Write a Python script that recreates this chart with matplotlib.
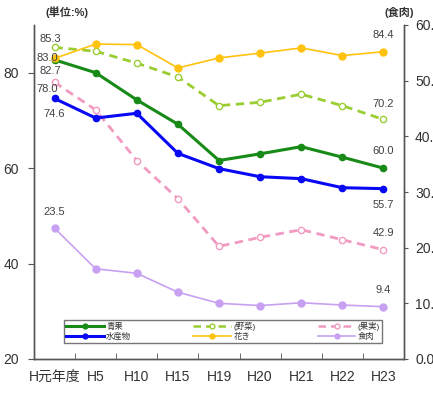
import matplotlib.pyplot as plt
from matplotlib.lines import Line2D

plt.rcParams['font.family'] = ['Liberation Sans', 'Noto Sans CJK JP', 'DejaVu Sans']

years = ["H元年度", "H5", "H10", "H15", "H19", "H20", "H21", "H22", "H23"]

seika = [82.7, 80.0, 74.3, 69.2, 61.6, 63.0, 64.5, 62.3, 60.0]      # 青果
yasai = [85.3, 84.5, 82.0, 79.1, 73.1, 73.8, 75.5, 73.1, 70.2]      # (野菜)
kajitsu = [78.0, 72.2, 61.6, 53.6, 43.6, 45.5, 47.1, 45.0, 42.9]    # (果実)
suisan = [74.6, 70.5, 71.5, 63.1, 59.9, 58.2, 57.8, 55.9, 55.7]     # 水産物
kaki = [83.0, 86.0, 85.9, 81.0, 83.1, 84.1, 85.2, 83.6, 84.4]       # 花き
shokuniku = [23.5, 16.2, 15.4, 12.0, 10.0, 9.6, 10.1, 9.7, 9.4]     # 食肉 (right axis)

label_col = "#404040"

fig = plt.figure(figsize=(4.33, 3.94), dpi=100)
ax = fig.add_axes([34 / 433, 1 - 359 / 394, 370 / 433, 334 / 394])
ax2 = ax.twinx()

x = list(range(len(years)))

ax.plot(x, seika, color="#178a17", lw=2.2, marker="o", ms=4.5, label="青果")
ax.plot(x, yasai, color="#9acd32", lw=2.0, ls=(0, (3, 2)), marker="o", ms=4.5,
        mfc="white", mec="#9acd32", mew=1.0, label="(野菜)")
ax.plot(x, kajitsu, color="#f29ac2", lw=2.0, ls=(0, (3, 2)), marker="o", ms=4.5,
        mfc="white", mec="#f29ac2", mew=1.0, label="(果実)")
ax.plot(x, suisan, color="#0808f5", lw=2.2, marker="o", ms=4.5, label="水産物")
ax.plot(x, kaki, color="#ffc20e", lw=1.2, marker="o", ms=5, label="花き")
ax2.plot(x, shokuniku, color="#c8a0f2", lw=1.2, marker="o", ms=5, label="食肉")

ax.set_ylim(20, 90)
ax2.set_ylim(0, 60)
ax.set_xlim(-0.5, len(years) - 0.5)

ax.set_yticks([20, 40, 60, 80])
ax2.set_yticks([0, 10, 20, 30, 40, 50, 60])
ax2.set_yticklabels([f"{v:.1f}" for v in [0, 10, 20, 30, 40, 50, 60]])

ax.set_xticks(x)
ax.set_xticklabels(years)
ax.set_xticks([i + 0.5 for i in range(len(years) - 1)], minor=True)
ax.tick_params(axis="x", which="major", length=0, pad=8, labelsize=10, colors="#333333")
ax.tick_params(axis="x", which="minor", direction="in", length=4, color="#555555")
ax.tick_params(axis="y", length=4, pad=7, labelsize=10, labelcolor="#333333", color="#555555")
ax2.tick_params(axis="y", length=3, pad=5, labelsize=10, labelcolor="#333333", color="#555555")

for a in (ax, ax2):
    a.spines["top"].set_visible(False)
    for s in ("left", "right", "bottom"):
        a.spines[s].set_color("#555555")
        a.spines[s].set_linewidth(1.0)

# value labels at the first and last year
def note(a, xi, val, dx, dy):
    a.annotate(f"{val:.1f}", (xi, val), xytext=(dx, dy),
               textcoords="offset points", ha="center", va="center",
               fontsize=8, color=label_col)

note(ax, 0, yasai[0], -3, 6)
note(ax, 0, kaki[0], -5, 0)
note(ax, 0, seika[0], -3, -8)
note(ax, 0, kajitsu[0], -5, -4.5)
note(ax, 0, suisan[0], 0, -11)
note(ax2, 0, shokuniku[0], 0, 12)
last = len(years) - 1
note(ax, last, kaki[-1], 0, 12)
note(ax, last, yasai[-1], 0, 11.5)
note(ax, last, seika[-1], 0, 12)
note(ax, last, suisan[-1], 0, -11.5)
note(ax, last, kajitsu[-1], 0, 12)
note(ax2, last, shokuniku[-1], 0, 12)

fig.text(67 / 433, 1 - 12 / 394, "(単位:%)", ha="center", va="center",
         fontsize=8, fontweight="bold", color="#333333")
fig.text(399 / 433, 1 - 12 / 394, "(食肉)", ha="center", va="center",
         fontsize=8, fontweight="bold", color="#333333")

handles = [
    Line2D([], [], color="#178a17", lw=2.2, marker="o", ms=3.5),
    Line2D([], [], color="#0808f5", lw=2.2, marker="o", ms=3.5),
    Line2D([], [], color="#9acd32", lw=1.8, ls=(0, (3, 2)), marker="o", ms=3.5, mfc="white"),
    Line2D([], [], color="#ffc20e", lw=1.2, marker="o", ms=3.5),
    Line2D([], [], color="#f29ac2", lw=1.8, ls=(0, (3, 2)), marker="o", ms=3.5, mfc="white"),
    Line2D([], [], color="#c8a0f2", lw=1.2, marker="o", ms=3.5),
]
names = ["青果", "水産物", "(野菜)", "花き", "(果実)", "食肉"]
leg = ax2.legend(handles, names, ncol=3, loc="lower left",
                 bbox_to_anchor=(0.081, 0.048, 0.86, 0.078), mode="expand",
                 fontsize=6, handlelength=4.5, handletextpad=0.3,
                 borderpad=0.25, labelspacing=0.25, borderaxespad=0,
                 fancybox=False, frameon=True)
leg.get_frame().set_edgecolor("#555555")
leg.get_frame().set_linewidth(1.0)
for t in leg.get_texts():
    t.set_color("#333333")

fig.savefig("out.png", dpi=100)
